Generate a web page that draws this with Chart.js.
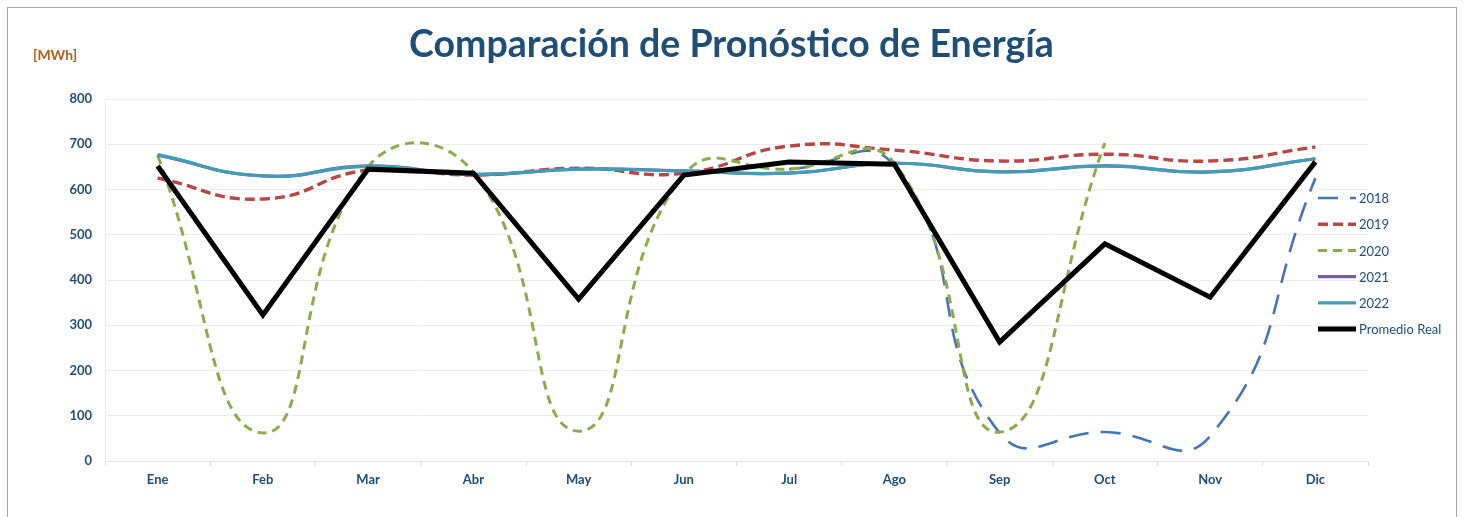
<!DOCTYPE html>
<html lang="es">
<head>
<meta charset="utf-8">
<title>Comparación de Pronóstico de Energía</title>
<script src="https://cdn.jsdelivr.net/npm/chart.js@4.4.1/dist/chart.umd.min.js"></script>
<style>
  html, body { margin: 0; padding: 0; background: #fff; }
  #wrap { position: relative; width: 1467px; height: 517px; overflow: hidden; }
  #frame {
    position: absolute; left: 7px; top: 7px; width: 1450px; height: 600px;
    border: 1.5px solid #a9a9a9; box-sizing: border-box;
  }
  #energia { position: absolute; left: 0; top: 0; }
</style>
</head>
<body>
<div id="wrap">
  <div id="frame"></div>
  <canvas id="energia" width="1467" height="517"></canvas>
</div>
<script>
// Meses y valores mensuales en MWh
const meses = ["Ene", "Feb", "Mar", "Abr", "May", "Jun", "Jul", "Ago", "Sep", "Oct", "Nov", "Dic"];

const pron2018 = [null, null, null, null, null, null, 645, 652, 62, 64, 55, 625];
const pron2019 = [625, 579, 643, 632, 647, 636, 696, 687, 663, 678, 663, 694];
const pron2020 = [675, 62, 650, 638, 66, 632, 645, 658, 64, 703, null, null];
const pron2021 = [676, 630, 652, 633, 645, 641, 636, 658, 639, 652, 639, 668];
const pron2022 = [677, 630, 651, 634, 645, 641, 636, 658, 639, 652, 639, 668];
const promedioReal = [652, 323, 645, 636, 358, 632, 661, 656, 263, 480, 362, 661];

const yTicks = [0, 100, 200, 300, 400, 500, 600, 700, 800];

const TITULO = "Comparación de Pronóstico de Energía";
const AZUL = "#1f4e79";
const FUENTE = "Lato, 'Open Sans', sans-serif";

// título centrado sobre todo el lienzo y unidad arriba a la izquierda
const encabezado = {
  id: "encabezado",
  afterDraw(chart) {
    const ctx = chart.ctx;
    ctx.save();
    ctx.textBaseline = "alphabetic";
    ctx.textAlign = "center";
    ctx.font = "bold 37.5px " + FUENTE;
    ctx.fillStyle = AZUL;
    ctx.fillText(TITULO, chart.width / 2 - 2, 57);
    ctx.textAlign = "left";
    ctx.textBaseline = "middle";
    ctx.font = "bold 14px " + FUENTE;
    ctx.fillStyle = "#b4601c";
    ctx.fillText("[MWh]", 33, 55);
    ctx.restore();
  }
};

// leyenda vertical dibujada a la derecha, encima del área de trazado
const leyendaDerecha = {
  id: "leyendaDerecha",
  afterDraw(chart) {
    const ctx = chart.ctx;
    const area = chart.chartArea;
    const x0 = area.right - 50;
    const x1 = area.right - 12;
    ctx.save();
    ctx.font = "13px " + FUENTE;
    ctx.textBaseline = "middle";
    ctx.textAlign = "left";
    chart.data.datasets.forEach((ds, i) => {
      const y = area.top + 99 + i * 26.2;
      ctx.beginPath();
      ctx.strokeStyle = ds.borderColor;
      ctx.lineWidth = ds.borderWidth;
      ctx.setLineDash(ds.borderDash || []);
      ctx.lineCap = "butt";
      ctx.moveTo(x0, y);
      ctx.lineTo(x1, y);
      ctx.stroke();
      ctx.setLineDash([]);
      ctx.fillStyle = AZUL;
      ctx.fillText(ds.label, x1 + 3, y + 1);
    });
    ctx.restore();
  }
};

function crearGrafico() {
  new Chart(document.getElementById("energia"), {
    type: "line",
    data: {
      labels: meses,
      datasets: [
        {
          label: "2018",
          data: pron2018,
          borderColor: "#4676b4",
          borderWidth: 2.6,
          borderDash: [20, 12],
          order: 6,
        },
        {
          label: "2019",
          data: pron2019,
          borderColor: "#b94744",
          borderWidth: 3.4,
          borderDash: [10, 5],
          order: 5,
        },
        {
          label: "2020",
          data: pron2020,
          borderColor: "#8cab4a",
          borderWidth: 3,
          borderDash: [9, 6],
          order: 4,
        },
        {
          label: "2021",
          data: pron2021,
          borderColor: "#7b5ea0",
          borderWidth: 3.2,
          order: 3,
        },
        {
          label: "2022",
          data: pron2022,
          borderColor: "#449db7",
          borderWidth: 3.2,
          order: 2,
        },
        {
          label: "Promedio Real",
          data: promedioReal,
          borderColor: "#000000",
          borderWidth: 5,
          borderJoinStyle: "miter",
          tension: 0,
          order: 1,
        },
      ],
    },
    options: {
      responsive: false,
      animation: false,
      layout: { padding: { left: 0, right: 99, top: 99, bottom: 0 } },
      elements: {
        point: { radius: 0, hoverRadius: 0 },
        line: { tension: 0.5, capBezierPoints: false, fill: false, borderJoinStyle: "round" },
      },
      plugins: {
        legend: { display: false },
        tooltip: { enabled: false },
        title: { display: false },
      },
      scales: {
        x: {
          offset: true,
          grid: { offset: true, drawOnChartArea: false, tickLength: 5, color: "#d9d9d9" },
          border: { color: "#e4e4e4" },
          ticks: { color: AZUL, font: { family: FUENTE, size: 13, weight: "bold" }, padding: 6 },
          afterFit: (s) => { s.height = 56; },
        },
        y: {
          min: 0,
          max: 800,
          afterBuildTicks: (s) => { s.ticks = yTicks.map((v) => ({ value: v })); },
          grid: { color: "#ededed", drawTicks: false },
          border: { color: "#ededed" },
          ticks: { color: AZUL, font: { family: FUENTE, size: 13, weight: "bold" }, padding: 13 },
          afterFit: (s) => { s.width = 105; },
        },
      },
    },
    plugins: [encabezado, leyendaDerecha],
  });
}

Promise.all([
  document.fonts.load("bold 37.5px Lato"),
  document.fonts.load("13px Lato"),
]).then(crearGrafico, crearGrafico);
</script>
</body>
</html>
